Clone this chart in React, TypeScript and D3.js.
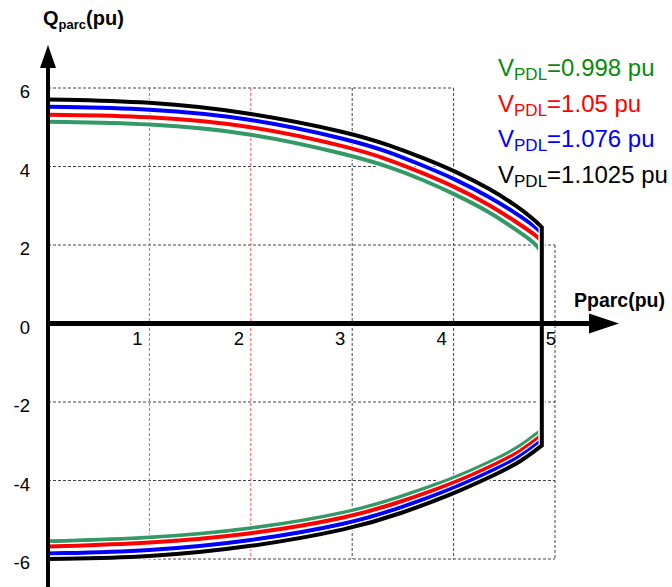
import React from 'react';
import * as d3 from 'd3';

// P samples (pu) for the upper and lower branches
const pTop = [0, 1, 2, 3, 3.37, 3.7, 4, 4.36, 4.62, 4.79, 4.87];
const pBottom = [0, 1, 2, 3, 3.47, 4, 4.46, 4.65, 4.87];

// upper branch Q (pu) per voltage
const qTop = {
  v0998: [5.14, 5.1, 4.87, 4.28, 3.99, 3.66, 3.31, 2.84, 2.38, 2.08, 1.82],
  v105: [5.32, 5.29, 5.06, 4.48, 4.17, 3.83, 3.5, 3.02, 2.58, 2.29, 2.1],
  v1076: [5.52, 5.48, 5.24, 4.67, 4.37, 4.02, 3.7, 3.22, 2.8, 2.5, 2.3],
  v11025: [5.71, 5.66, 5.38, 4.85, 4.54, 4.22, 3.9, 3.43, 3.0, 2.66, 2.45],
};

// lower branch Q (pu) per voltage
const qBottom = {
  v0998: [-5.55, -5.48, -5.25, -4.81, -4.42, -3.96, -3.41, -3.15, -2.71],
  v105: [-5.68, -5.6, -5.38, -4.93, -4.55, -4.08, -3.53, -3.28, -2.85],
  v1076: [-5.86, -5.8, -5.55, -5.09, -4.7, -4.21, -3.66, -3.41, -2.98],
  v11025: [-6.0, -5.96, -5.7, -5.23, -4.85, -4.34, -3.79, -3.54, -3.11],
};

const seriesKeys = ['v0998', 'v105', 'v1076', 'v11025'];
const legendValues = ['0.998', '1.05', '1.076', '1.1025'];
const curveColors = ['#339966', '#ff0000', '#0000ff', '#000000'];
const legendColors = ['#0a8a0a', '#ff0000', '#0000ff', '#000000'];

const xTicks = [1, 2, 3, 4, 5];
const yTicks = [-6, -4, -2, 0, 2, 4, 6];

const W = 672;
const H = 587;

export default function App() {
  const x = d3.scaleLinear().domain([0, 5]).range([48, 555]);
  const y = d3.scaleLinear().domain([-6, 6]).range([559, 88]);

  const line = d3
    .line<[number, number]>()
    .x(d => x(d[0]))
    .y(d => y(d[1]))
    .curve(d3.curveBasis);

  // upper branch, vertical drop at Pmax, lower branch back to P=0
  const closedPath = (key: string) => {
    const top = pTop.map((p, i) => [p, qTop[key][i]] as [number, number]);
    const bottom = pBottom
      .map((p, i) => [p, qBottom[key][i]] as [number, number])
      .reverse();
    const dTop = line(top) || '';
    const dBottom = (line(bottom) || '').replace(/^M/, 'L');
    return dTop + dBottom;
  };

  const font = 'Arial, "Liberation Sans", sans-serif';
  const dash = '3,2';

  return (
    <svg
      width={W}
      height={H}
      style={{ position: 'absolute', left: 0, top: 0, background: '#fff' }}
      fontFamily={font}
    >
      {/* horizontal grid */}
      {yTicks
        .filter(t => t !== 0)
        .map(t => (
          <line
            key={'h' + t}
            x1={x(0)}
            x2={t >= 4 ? x(4) : x(5)}
            y1={y(t)}
            y2={y(t)}
            stroke="#444"
            strokeWidth={1}
            strokeDasharray={dash}
          />
        ))}
      {/* vertical grid */}
      {xTicks.map(t => (
        <line
          key={'v' + t}
          x1={x(t)}
          x2={x(t)}
          y1={t === 5 ? y(2) : y(6)}
          y2={y(-6)}
          stroke={t <= 2 ? '#ff5050' : '#444'}
          strokeWidth={1}
          strokeDasharray={dash}
        />
      ))}

      {/* capability curves */}
      {seriesKeys.map((k, i) => (
        <g key={k}>
          <path d={closedPath(k)} fill="none" stroke="#fff" strokeWidth={6.5} />
          <path
            d={closedPath(k)}
            fill="none"
            stroke={curveColors[i]}
            strokeWidth={4}
          />
        </g>
      ))}

      {/* axes */}
      <line x1={x(0)} x2={x(0)} y1={62} y2={H} stroke="#000" strokeWidth={4} />
      <path d={`M${x(0)},45 L${x(0) - 8},68 L${x(0) + 8},68 Z`} fill="#000" />
      <line x1={46} x2={595} y1={y(0)} y2={y(0)} stroke="#000" strokeWidth={5} />
      <path d={`M619,${y(0)} L589,${y(0) - 10} L589,${y(0) + 10} Z`} fill="#000" />

      {/* tick labels */}
      {yTicks.map(t => (
        <text
          key={'yl' + t}
          x={30}
          y={y(t) + 10}
          textAnchor="end"
          fontSize={18.5}
          fill="#000"
        >
          {t}
        </text>
      ))}
      {xTicks.map(t => (
        <text
          key={'xl' + t}
          x={x(t) - (t === 5 ? 4 : 12)}
          y={345}
          textAnchor="middle"
          fontSize={18.5}
          fill="#000"
        >
          {t}
        </text>
      ))}

      {/* axis titles */}
      <text x={43} y={25} fontSize={20} fontWeight="bold" fill="#000">
        Q<tspan fontSize={13} dy={4}>parc</tspan>
        <tspan dy={-4}>(pu)</tspan>
      </text>
      <text x={574} y={307} fontSize={19.5} fontWeight="bold" fill="#000">
        Pparc(pu)
      </text>

      {/* legend */}
      {legendValues.map((v, i) => (
        <text
          key={'lg' + v}
          x={498}
          y={76 + i * 35.7}
          fontSize={24}
          fill={legendColors[i]}
        >
          V<tspan fontSize={17} dy={4}>PDL</tspan>
          <tspan dy={-4}>={v} pu</tspan>
        </text>
      ))}
    </svg>
  );
}
